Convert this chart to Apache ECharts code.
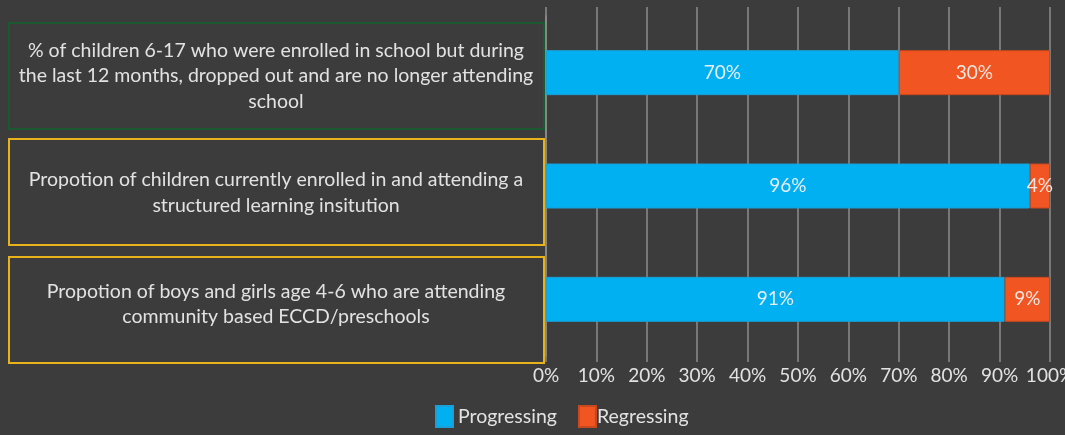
<!DOCTYPE html>
<html>
<head>
<meta charset="utf-8">
<script src="https://cdn.jsdelivr.net/npm/echarts@6/dist/echarts.min.js"></script>
<style>
html,body{margin:0;padding:0;background:#3c3c3c;}
#c{width:1065px;height:435px;}
</style>
</head>
<body>
<div id="c"></div>
<script>
const categories = [
  "% of children 6-17 who were enrolled in school but during\nthe last 12 months, dropped out and are no longer attending\nschool",
  "Propotion of children currently enrolled in and attending a\nstructured learning insitution",
  "Propotion of boys and girls age 4-6 who are attending\ncommunity based ECCD/preschools"
];
const progressing = [70, 96, 91];
const regressing = [30, 4, 9];
const xTicks = [0, 10, 20, 30, 40, 50, 60, 70, 80, 90, 100];
const boxBorders = ["#1b5a30", "#e8b21a", "#e8b21a"];

const chart = echarts.init(document.getElementById('c'));
const FONT = 'Lato';
const TXT = '#e2e2e2';
const GRID = '#8c8c8c';
const labelShift = [7, 13, 10];

function boxes() {
  const tops = [23, 139, 257];
  const h = 106;
  return categories.map((c, i) => ({
    type: 'rect',
    shape: { x: 9, y: tops[i], width: 535, height: h },
    style: { fill: 'transparent', stroke: boxBorders[i], lineWidth: 2 },
    z: 1
  }));
}

chart.setOption({
  backgroundColor: '#3c3c3c',
  animation: false,
  textStyle: { fontFamily: FONT },
  grid: { left: 546, right: 15, top: 16, bottom: 79, containLabel: false, outerBoundsMode: 'none' },
  xAxis: [{
    type: 'value', min: 0, max: 100, interval: 10,
    axisLine: { show: false },
    axisTick: { show: true, length: 6, lineStyle: { color: GRID, width: 1.5 } },
    splitLine: { show: true, lineStyle: { color: GRID, width: 1.5 } },
    axisLabel: { color: TXT, fontSize: 19, fontFamily: FONT, margin: 10,
      formatter: v => xTicks.includes(v) ? v + '%' : '' }
  }, {
    type: 'value', min: 0, max: 100, interval: 10, position: 'top',
    axisLine: { show: false },
    axisTick: { show: true, length: 9, lineStyle: { color: GRID, width: 1.5 } },
    splitLine: { show: false },
    axisLabel: { show: false }
  }],
  yAxis: {
    type: 'category', inverse: true, data: categories,
    axisLine: { show: true, lineStyle: { color: GRID, width: 1.5 } },
    axisTick: { show: false },
    axisLabel: {
      show: true, color: TXT, fontSize: 19.5, fontFamily: FONT, lineHeight: 25.5,
      align: 'center', margin: 270,
      formatter: (v, i) => v.split('\n').map(l => '{t' + i + '|' + l + '}').join('\n'),
      rich: {
        t0: { color: TXT, fontSize: 19.5, fontFamily: FONT, lineHeight: 25.5, padding: [labelShift[0], 0, 0, 0] },
        t1: { color: TXT, fontSize: 19.5, fontFamily: FONT, lineHeight: 25.5, padding: [labelShift[1], 0, 0, 0] },
        t2: { color: TXT, fontSize: 19.5, fontFamily: FONT, lineHeight: 25.5, padding: [labelShift[2], 0, 0, 0] }
      }
    }
  },
  legend: {
    bottom: 2, left: 430,
    icon: 'rect',
    itemWidth: 17, itemHeight: 21, itemGap: 21,
    textStyle: { color: TXT, fontSize: 19.5, fontFamily: FONT },
    data: [
      { name: 'Progressing' },
      { name: 'Regressing', textStyle: { padding: [0, 0, 0, -4] } }
    ]
  },
  graphic: boxes(),
  series: [{
    name: 'Progressing', type: 'bar', stack: 's', data: progressing, barWidth: 45, xAxisIndex: 0,
    itemStyle: { color: '#00b0f0', borderColor: '#1a9fd6', borderWidth: 1 },
    label: { show: true, position: 'inside', formatter: '{c}%', color: '#e6eef4', fontSize: 19, fontFamily: FONT }
  }, {
    name: 'Regressing', type: 'bar', stack: 's', data: regressing, barWidth: 45, xAxisIndex: 0,
    itemStyle: { color: '#f05522', borderColor: '#c9491f', borderWidth: 1 },
    label: { show: true, position: 'inside', formatter: '{c}%', color: '#f4e6e0', fontSize: 19, fontFamily: FONT }
  }]
});
</script>
</body>
</html>
